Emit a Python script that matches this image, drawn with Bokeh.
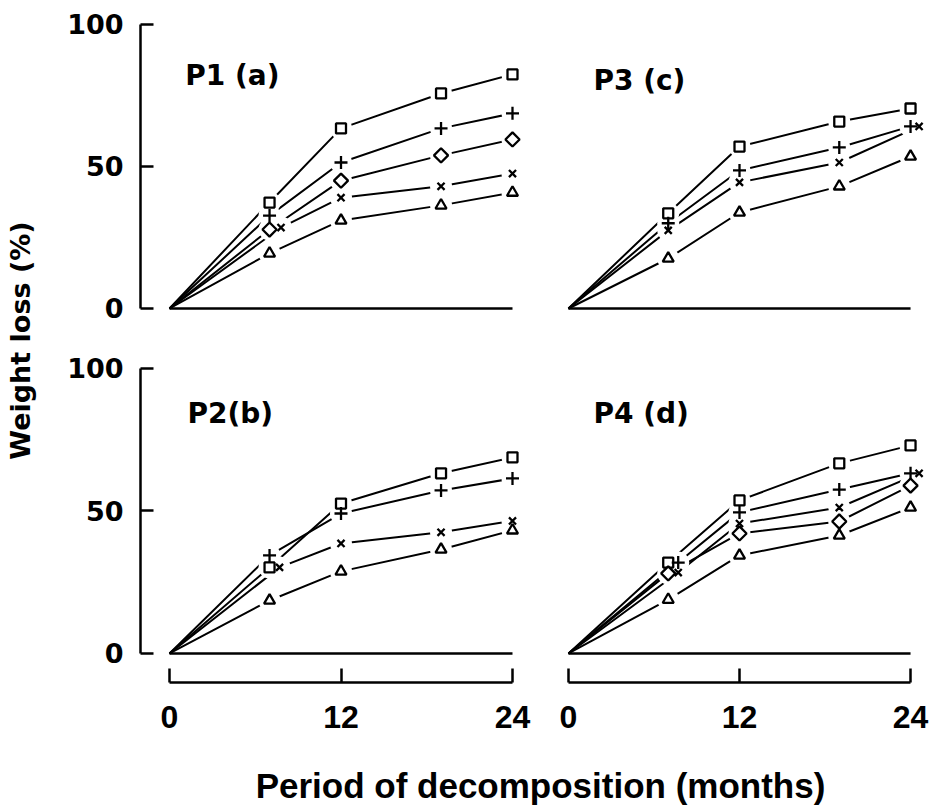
import math
from bokeh.plotting import figure
from bokeh.models import LinearAxis, FixedTicker, Range1d
from bokeh.layouts import row, column
from bokeh.embed import file_html
from bokeh.resources import INLINE
from bokeh.core.properties import value

# ---------------- data ----------------
months = [0, 7, 12, 19, 24]
months_p1_x = [0, 7.8, 12, 19, 24]
months_p2_x = [0, 7.7, 12, 19, 24]
months_p3_x = [0, 7, 12, 19, 24.6]
months_p4_plus = [0, 7.7, 12, 19, 24]
months_p4_x = [0, 7.7, 12, 19, 24.6]

p1_square = [0, 37.3, 63.4, 75.7, 82.4]
p1_plus = [0, 32.7, 51.4, 63.4, 68.7]
p1_diamond = [0, 27.8, 45.0, 53.9, 59.5]
p1_x = [0, 28.5, 39.0, 43.0, 47.5]
p1_triangle = [0, 19.4, 31.0, 36.3, 40.8]

p2_square = [0, 30.2, 52.6, 63.2, 68.8]
p2_plus = [0, 34.4, 49.1, 57.2, 61.4]
p2_x = [0, 30.2, 38.6, 42.5, 46.5]
p2_triangle = [0, 18.6, 28.8, 36.5, 43.2]

p3_square = [0, 33.5, 57.0, 65.8, 70.4]
p3_plus = [0, 30.0, 48.6, 56.7, 64.1]
p3_x = [0, 27.5, 44.4, 51.4, 64.1]
p3_triangle = [0, 17.6, 33.8, 43.0, 53.5]

p4_square = [0, 31.9, 53.7, 66.7, 73.0]
p4_plus = [0, 31.9, 49.5, 57.5, 63.2]
p4_x = [0, 28.4, 45.6, 51.2, 63.2]
p4_diamond = [0, 28.1, 42.1, 46.3, 58.9]
p4_triangle = [0, 18.9, 34.4, 41.4, 51.2]

zero_line_months = [0, 24]
zero_line_values = [0, 0]

y_ticks = [0, 50, 100]
x_ticks = [0, 12, 24]
panel_labels = ["P1 (a)", "P2(b)", "P3 (c)", "P4 (d)"]
y_title = "Weight loss (%)"
x_title = "Period of decomposition (months)"

# ---------------- styles ----------------
MARK = {
    "square": dict(marker="square", size=10, angle=0.0),
    "plus": dict(marker="cross", size=13, angle=0.0),
    "diamond": dict(marker="square", size=10, angle=math.pi / 4),
    "x": dict(marker="x", size=10, angle=0.0),
    "triangle": dict(marker="triangle", size=11, angle=0.0),
}
BOLD_WIDE = "DejaVu Sans"
BOLD_NARROW = "Liberation Sans"


def make_panel(series, label, label_pos, xr, yr, width, height,
               bl, br, bt, bb, left_axis, bottom_axis):
    p = figure(width=width, height=height,
               x_range=Range1d(*xr), y_range=Range1d(*yr),
               x_axis_type=None, y_axis_type=None,
               toolbar_location=None, output_backend="svg",
               min_border_left=bl, min_border_right=br,
               min_border_top=bt, min_border_bottom=bb)
    p.outline_line_color = None
    p.background_fill_color = "white"
    p.border_fill_color = "white"

    if left_axis:
        ya = LinearAxis(ticker=FixedTicker(ticks=y_ticks), bounds=(0, 100))
        ya.axis_line_width = 2.5
        ya.major_tick_line_width = 2.5
        ya.major_tick_in = 13
        ya.major_tick_out = 0
        ya.minor_tick_line_color = None
        ya.major_label_standoff = 17
        ya.major_label_text_font = BOLD_WIDE
        ya.major_label_text_font_style = "bold"
        ya.major_label_text_font_size = "27px"
        ya.major_label_text_color = "black"
        p.add_layout(ya, "left")
    if bottom_axis:
        xa = LinearAxis(ticker=FixedTicker(ticks=x_ticks), bounds=(0, 24))
        xa.axis_line_width = 2.5
        xa.major_tick_line_width = 2.5
        xa.major_tick_in = 14
        xa.major_tick_out = 0
        xa.minor_tick_line_color = None
        xa.major_label_standoff = 23
        xa.major_label_text_font = BOLD_NARROW
        xa.major_label_text_font_style = "bold"
        xa.major_label_text_font_size = "32px"
        xa.major_label_text_color = "black"
        p.add_layout(xa, "below")

    p.line(zero_line_months, zero_line_values, line_color="black", line_width=2.5)
    for kind, xs, ys in series:
        p.line(xs, ys, line_color="black", line_width=2)
    for kind, xs, ys in series:
        p.scatter(xs[1:], ys[1:], marker="circle", size=22,
                  fill_color="white", line_color=None)
    for kind, xs, ys in series:
        m = MARK[kind]
        p.scatter(xs[1:], ys[1:], marker=m["marker"], size=m["size"], angle=m["angle"],
                  fill_color="white", line_color="black", line_width=2.3)

    p.text(x=[label_pos[0]], y=[label_pos[1]], text=[label],
           text_font=value(BOLD_WIDE), text_font_style="bold",
           text_font_size="28px", text_color="black",
           text_align="left", text_baseline="alphabetic")
    return p


TOP_Y = (-11.27, 104.2)
BOT_Y = (-10.18, 109.8)
LEFT_X = (-2.03, 25.26)
RIGHT_X = (-1.40, 25.33)

p1 = make_panel([("square", months, p1_square), ("plus", months, p1_plus),
                 ("diamond", months, p1_diamond), ("x", months_p1_x, p1_x),
                 ("triangle", months, p1_triangle)],
                panel_labels[0], (1.1, 82.0), LEFT_X, TOP_Y, 488, 340,
                80, 18, 12, 0, True, False)
p3 = make_panel([("square", months, p3_square), ("plus", months, p3_plus),
                 ("x", months_p3_x, p3_x), ("triangle", months, p3_triangle)],
                panel_labels[2], (1.75, 80.3), RIGHT_X, TOP_Y, 381, 340,
                0, 0, 12, 0, False, False)
p2 = make_panel([("square", months, p2_square), ("plus", months, p2_plus),
                 ("x", months_p2_x, p2_x), ("triangle", months, p2_triangle)],
                panel_labels[1], (1.26, 84.2), LEFT_X, BOT_Y, 488, 412,
                80, 18, 0, 70, True, True)
p4 = make_panel([("square", months, p4_square), ("plus", months_p4_plus, p4_plus),
                 ("x", months_p4_x, p4_x), ("diamond", months, p4_diamond),
                 ("triangle", months, p4_triangle)],
                panel_labels[3], (1.75, 84.2), RIGHT_X, BOT_Y, 381, 412,
                0, 0, 0, 70, False, True)

# y-axis title
ylab = figure(width=60, height=752, x_range=Range1d(0, 60), y_range=Range1d(752, 0),
              x_axis_type=None, y_axis_type=None, toolbar_location=None,
              output_backend="svg", min_border=0)
ylab.outline_line_color = None
ylab.text(x=[20], y=[340], text=[y_title], angle=math.pi / 2,
          text_font=value(BOLD_WIDE), text_font_style="bold", text_font_size="27px",
          text_color="black", text_align="center", text_baseline="middle")

# x-axis title
xlab = figure(width=929, height=56, x_range=Range1d(0, 929), y_range=Range1d(56, 0),
              x_axis_type=None, y_axis_type=None, toolbar_location=None,
              output_backend="svg", min_border=0)
xlab.outline_line_color = None
xlab.text(x=[540], y=[33], text=[x_title],
          text_font=value(BOLD_NARROW), text_font_style="bold", text_font_size="35px",
          text_color="black", text_align="center", text_baseline="middle")

layout = column(row(ylab, column(row(p1, p3), row(p2, p4))), xlab)

open("out.html", "w").write(file_html(layout, INLINE))
